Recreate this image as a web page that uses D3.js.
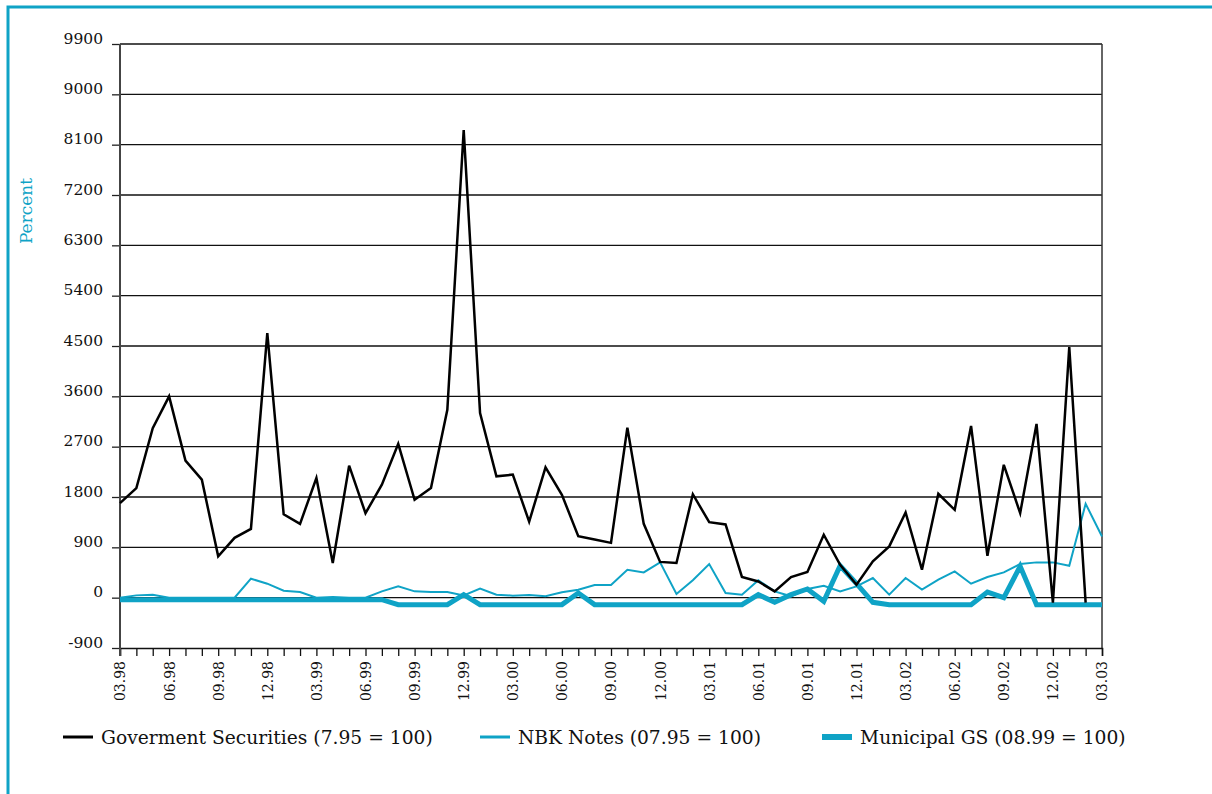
<!DOCTYPE html>
<html>
<head>
<meta charset="utf-8">
<script src="https://d3js.org/d3.v7.min.js"></script>
<style>
  body { margin: 0; background: #fff; }
  svg { display: block; }
  text { font-family: "DejaVu Serif", serif; fill: #111; }
</style>
</head>
<body>
<div id="chart"></div>
<script>
const width = 1212;
const height = 794;
const cyan = "#0fa3c6";

// months 03.98 .. 03.03
const months = [
  "03.98","04.98","05.98","06.98","07.98","08.98","09.98","10.98","11.98","12.98",
  "01.99","02.99","03.99","04.99","05.99","06.99","07.99","08.99","09.99","10.99","11.99","12.99",
  "01.00","02.00","03.00","04.00","05.00","06.00","07.00","08.00","09.00","10.00","11.00","12.00",
  "01.01","02.01","03.01","04.01","05.01","06.01","07.01","08.01","09.01","10.01","11.01","12.01",
  "01.02","02.02","03.02","04.02","05.02","06.02","07.02","08.02","09.02","10.02","11.02","12.02",
  "01.03","02.03","03.03"
];

const govSecurities = [
  1690, 1960, 3030, 3600, 2450, 2110, 740, 1070, 1230, 4730,
  1490, 1320, 2140, 620, 2360, 1510, 2020, 2750, 1750, 1960,
  3360, 8360, 3300, 2170, 2200, 1360, 2330, 1840, 1100, 1040,
  980, 3040, 1320, 640, 620, 1850, 1350, 1310, 370, 290,
  113, 369, 458, 1125, 589, 232, 649, 917, 1524, 500,
  1857, 1571, 3071, 750, 2375, 1512, 3107, -90, 4480, -90,
  null
];

const nbkNotes = [
  0, 41, 54, 0, 0, 0, 0, 0, 339, 250,
  125, 101, 0, 12, 0, 0, 113, 202, 113, 101,
  101, 41, 161, 54, 36, 48, 24, 95, 143, 226,
  226, 500, 452, 631, 65, 310, 601, 83, 54, 310,
  113, 24, 155, 214, 113, 202, 351, 54, 351, 143,
  321, 470, 250, 369, 452, 601, 631, 631, 571, 1679,
  1095
];

const municipalGS = [
  -36, -36, -36, -36, -36, -36, -36, -36, -36, -36,
  -36, -36, -36, -36, -36, -36, -36, -125, -125, -125,
  -125, 54, -125, -125, -125, -125, -125, -125, 83, -125,
  -125, -125, -125, -125, -125, -125, -125, -125, -125, 54,
  -83, 54, 155, -66, 571, 250, -83, -125, -125, -125,
  -125, -125, -125, 101, 0, 560, -125, -125, -125, -125,
  -125
];

const yTicks = [-900, 0, 900, 1800, 2700, 3600, 4500, 5400, 6300, 7200, 8100, 9000, 9900];
const xTickLabels = ["03.98","06.98","09.98","12.98","03.99","06.99","09.99","12.99",
  "03.00","06.00","09.00","12.00","03.01","06.01","09.01","12.01",
  "03.02","06.02","09.02","12.02","03.03"];

const legendItems = [
  { label: "Goverment Securities (7.95 = 100)", color: "#000", w: 3, x: 63 },
  { label: "NBK Notes (07.95 = 100)", color: cyan, w: 3, x: 480 },
  { label: "Municipal GS (08.99 = 100)", color: cyan, w: 6, x: 822 }
];

const svg = d3.select("#chart").append("svg")
  .attr("width", width)
  .attr("height", height);

// frame
svg.append("path")
  .attr("d", `M8,${height} L8,7 L${width},7`)
  .attr("fill", "none")
  .attr("stroke", cyan)
  .attr("stroke-width", 3);

const x = d3.scaleLinear().domain([0, months.length - 1]).range([120, 1102]);
const y = d3.scaleLinear().domain([-900, 9900]).range([648, 44]);

// gridlines + y ticks
const yAxis = svg.append("g")
  .attr("transform", "translate(120,0)")
  .call(d3.axisLeft(y).tickValues(yTicks).tickSize(8).tickFormat(d => String(d)));
yAxis.select(".domain").remove();
yAxis.selectAll(".tick line").attr("stroke", "#222").attr("stroke-width", 1.3);
yAxis.selectAll(".tick text")
  .attr("x", -17)
  .attr("dy", "-0.05em")
  .style("font-family", "DejaVu Serif")
  .style("font-size", "15.5px")
  .attr("fill", "#111");

svg.append("g").selectAll("line")
  .data(yTicks.filter(d => d !== -900))
  .join("line")
  .attr("x1", 120).attr("x2", 1102)
  .attr("y1", d => y(d)).attr("y2", d => y(d))
  .attr("stroke", "#111")
  .attr("stroke-width", 1.3);

// right border
svg.append("line")
  .attr("x1", 1102).attr("x2", 1102)
  .attr("y1", y(9900)).attr("y2", y(-900))
  .attr("stroke", "#333").attr("stroke-width", 1.5);

// x axis
const xAxis = svg.append("g")
  .attr("transform", `translate(0,${y(-900)})`)
  .call(d3.axisBottom(x)
    .tickValues(d3.range(months.length))
    .tickSize(8)
    .tickFormat(i => xTickLabels.includes(months[i]) ? months[i] : ""));
xAxis.select(".domain").attr("stroke", "#111").attr("stroke-width", 1.5);
xAxis.selectAll(".tick line").attr("stroke", "#111").attr("stroke-width", 1.3);
xAxis.selectAll(".tick text")
  .attr("transform", "rotate(-90)")
  .attr("text-anchor", "end")
  .attr("x", -13)
  .attr("y", 0)
  .attr("dy", "0.35em")
  .style("font-family", "DejaVu Serif")
  .style("font-size", "14px")
  .attr("fill", "#111");

// y axis line
svg.append("line")
  .attr("x1", 120).attr("x2", 120)
  .attr("y1", y(9900)).attr("y2", y(-900) + 8)
  .attr("stroke", "#444").attr("stroke-width", 2);

// axis title
svg.append("text")
  .attr("transform", "translate(32,211) rotate(-90)")
  .attr("text-anchor", "middle")
  .style("font-size", "17px")
  .style("fill", cyan)
  .text("Percent");

// series
const line = d3.line()
  .defined(d => d != null)
  .x((d, i) => x(i))
  .y(d => y(d));

svg.append("path")
  .datum(municipalGS)
  .attr("d", line)
  .attr("fill", "none")
  .attr("stroke", cyan)
  .attr("stroke-width", 5)
  .attr("stroke-linejoin", "miter");

svg.append("path")
  .datum(nbkNotes)
  .attr("d", line)
  .attr("fill", "none")
  .attr("stroke", cyan)
  .attr("stroke-width", 2);

svg.append("path")
  .datum(govSecurities)
  .attr("d", line)
  .attr("fill", "none")
  .attr("stroke", "#000")
  .attr("stroke-width", 2.5);

// legend
const legend = svg.append("g").selectAll("g")
  .data(legendItems)
  .join("g")
  .attr("transform", d => `translate(${d.x},737)`);
legend.append("line")
  .attr("x1", 0).attr("x2", 30)
  .attr("stroke", d => d.color)
  .attr("stroke-width", d => d.w);
legend.append("text")
  .attr("x", 38)
  .attr("dy", "0.35em")
  .style("font-size", "18.7px")
  .text(d => d.label);
</script>
</body>
</html>
